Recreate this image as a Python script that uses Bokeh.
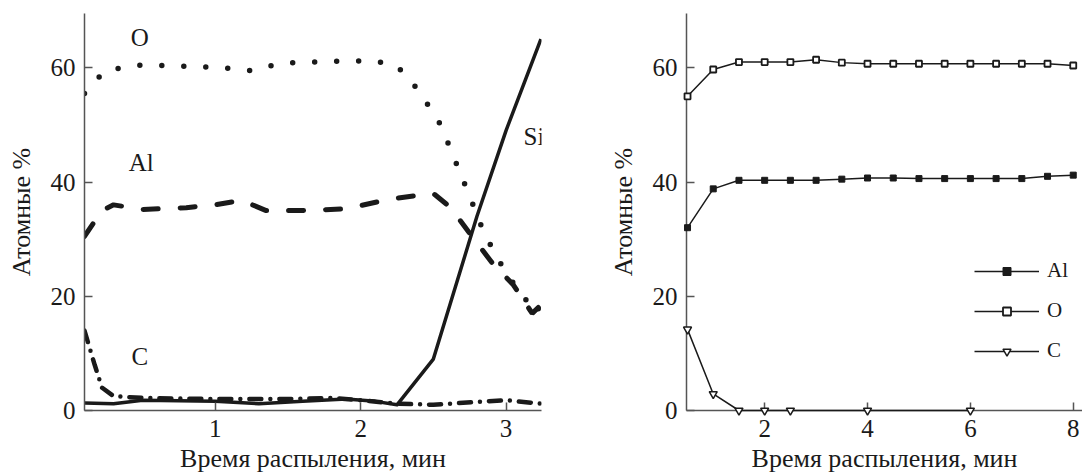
from bokeh.plotting import figure
from bokeh.layouts import row
from bokeh.models import Label, Legend, LegendItem, FixedTicker
from bokeh.embed import file_html
from bokeh.resources import INLINE

FONT = "'Liberation Serif', 'Times New Roman', serif"
INK = "#1a1a1a"
AXIS = "#555555"

# ---------------- left panel data ----------------
o_x = [0.1, 0.24, 0.5, 1.0, 1.25, 1.45, 1.9, 2.1, 2.25, 2.4, 2.55, 2.75, 2.85, 3.0, 3.12, 3.2, 3.24]
o_y = [55.5, 59.5, 60.5, 60.1, 59.5, 60.8, 61.2, 61.2, 60.3, 56.0, 50.0, 37.5, 31.0, 24.0, 20.0, 17.0, 18.5]

al_x = [0.1, 0.22, 0.3, 0.5, 0.8, 1.0, 1.18, 1.35, 1.6, 1.9, 2.2, 2.5, 2.62, 2.75, 2.9, 3.05, 3.18, 3.24]
al_y = [30.5, 35.0, 36.0, 35.2, 35.5, 36.0, 36.8, 35.0, 35.0, 35.3, 37.0, 38.0, 35.5, 31.0, 26.0, 22.0, 17.0, 18.5]

si_x = [0.1, 0.3, 0.5, 1.0, 1.3, 1.6, 1.9, 2.1, 2.25, 2.5, 2.8, 3.0, 3.24]
si_y = [1.3, 1.2, 1.8, 1.6, 1.2, 1.6, 2.0, 1.6, 1.0, 9.0, 34.0, 49.0, 65.0]

c_x = [0.1, 0.17, 0.22, 0.3, 0.5, 1.0, 1.5, 1.8, 2.0, 2.25, 2.5, 2.8, 3.0, 3.24]
c_y = [14.0, 8.0, 4.0, 2.5, 2.2, 2.0, 2.0, 2.2, 1.8, 1.2, 1.0, 1.5, 1.8, 1.2]

left_labels = ["O", "Al", "C", "Si"]
left_label_x = [0.48, 0.49, 0.48, 3.12]
left_label_y = [65.3, 43.5, 9.5, 48.0]

left_xticks = [1, 2, 3]
yticks = [0, 20, 40, 60]

# ---------------- right panel data ----------------
t_r = [0.5, 1.0, 1.5, 2.0, 2.5, 3.0, 3.5, 4.0, 4.5, 5.0, 5.5, 6.0, 6.5, 7.0, 7.5, 8.0]
al_r = [32.0, 38.8, 40.3, 40.3, 40.3, 40.3, 40.5, 40.7, 40.7, 40.6, 40.6, 40.6, 40.6, 40.6, 41.0, 41.2]
o_r = [55.0, 59.7, 61.0, 61.0, 61.0, 61.4, 60.9, 60.7, 60.7, 60.7, 60.7, 60.7, 60.7, 60.7, 60.7, 60.4]
c_t = [0.5, 1.0, 1.5, 2.0, 2.5, 4.0, 6.0]
c_r = [14.2, 2.9, 0.0, 0.0, 0.0, 0.0, 0.0]

right_xticks = [2, 4, 6, 8]

XLABEL = "Время распыления, мин"
YLABEL = "Атомные %"


def style(p, xticks):
    p.outline_line_color = None
    p.grid.visible = False
    p.background_fill_color = "white"
    p.border_fill_color = "white"
    for ax in (p.xaxis[0], p.yaxis[0]):
        ax.axis_line_color = AXIS
        ax.axis_line_width = 1.5
        ax.major_tick_line_color = AXIS
        ax.major_tick_line_width = 1.5
        ax.major_tick_in = 8
        ax.major_tick_out = 0
        ax.minor_tick_line_color = None
        ax.major_label_text_font = FONT
        ax.major_label_text_font_size = "25px"
        ax.major_label_text_color = INK
        ax.axis_label_text_font = FONT
        ax.axis_label_text_font_size = "26px"
        ax.axis_label_text_font_style = "normal"
        ax.axis_label_text_color = INK
        ax.major_label_standoff = 9
    p.xaxis[0].ticker = FixedTicker(ticks=xticks)
    p.yaxis[0].ticker = FixedTicker(ticks=yticks)
    p.xaxis[0].axis_label = XLABEL
    p.yaxis[0].axis_label = YLABEL
    p.xaxis[0].axis_label_standoff = 4
    p.yaxis[0].axis_label_standoff = 12


p1 = figure(frame_width=457, frame_height=397, min_border_left=84, min_border_right=22,
            min_border_top=13, min_border_bottom=66, x_range=(0.1, 3.244), y_range=(0, 69.5),
            output_backend="svg", toolbar_location=None)
style(p1, left_xticks)

p1.line(o_x, o_y, line_color=INK, line_width=5.5, line_dash="0 22", line_cap="round")
p1.line(al_x, al_y, line_color=INK, line_width=5, line_dash="15 22", line_cap="round")
p1.line(c_x, c_y, line_color=INK, line_width=4.5, line_dash="12 9 0 9", line_cap="round")
p1.line(si_x, si_y, line_color=INK, line_width=3.5, line_join="round")

for t, x, y in zip(left_labels, left_label_x, left_label_y):
    p1.add_layout(Label(x=x, y=y, text=t, text_font=FONT, text_font_size="25px",
                        text_color=INK, text_align="center" if t != "Si" else "left",
                        text_baseline="middle"))

p2 = figure(frame_width=396, frame_height=397, min_border_left=123, min_border_right=0,
            min_border_top=13, min_border_bottom=66, x_range=(0.48, 8.18), y_range=(0, 69.5),
            output_backend="svg", toolbar_location=None)
style(p2, right_xticks)

l_al = p2.line(t_r, al_r, line_color=INK, line_width=1.5)
m_al = p2.scatter(t_r, al_r, marker="square", size=6, fill_color=INK, line_color=INK, level="overlay")
l_o = p2.line(t_r, o_r, line_color=INK, line_width=1.5)
m_o = p2.scatter(t_r, o_r, marker="square", size=6, fill_color="white", line_color=INK,
                 line_width=1.8, level="overlay")
l_c = p2.line(c_t, c_r, line_color=INK, line_width=1.5, level="overlay")
m_c = p2.scatter(c_t, c_r, marker="inverted_triangle", size=8, fill_color="white", line_color=INK,
                 line_width=1.5, level="overlay")

legend = Legend(items=[LegendItem(label="Al", renderers=[l_al, m_al]),
                       LegendItem(label="O", renderers=[l_o, m_o]),
                       LegendItem(label="C", renderers=[l_c, m_c])],
                location=(288, 47), padding=0, margin=0, spacing=15,
                glyph_width=65, glyph_height=20, label_height=20, label_standoff=8,
                label_text_font=FONT, label_text_font_size="21px", label_text_color=INK,
                border_line_color=None, background_fill_alpha=0)
p2.add_layout(legend)

layout = row(p1, p2)
open("out.html", "w").write(file_html(layout, INLINE))
